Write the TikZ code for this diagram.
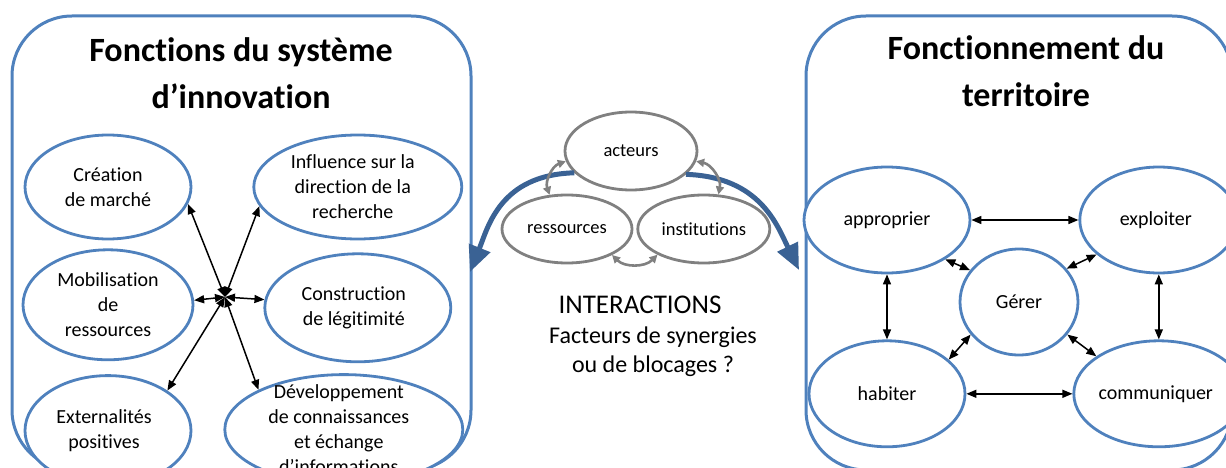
\documentclass[tikz,border=0pt]{standalone}
\usepackage{fontspec}
\setmainfont{Carlito}[Ligatures=NoCommon]
\usetikzlibrary{arrows.meta, positioning, shapes.geometric}
\definecolor{panelblue}{RGB}{79,129,189}
\definecolor{flowblue}{RGB}{58,98,148}
\definecolor{ringgray}{RGB}{128,128,128}
\tikzset{
  panel/.style={draw=panelblue, line width=3pt, rounded corners=60pt},
  ttl/.style={font=\bfseries\fontsize{34}{47}\selectfont, align=center},
  oval/.style 2 args={ellipse, draw=panelblue, line width=2.8pt, fill=white,
                      inner sep=0pt, minimum width=#1, minimum height=#2},
  gryoval/.style 2 args={oval={#1}{#2}, draw=ringgray, line width=2.8pt},
  txt/.style={font=\fontsize{20}{25}\selectfont, align=center},
  ctxt/.style={font=\fontsize{18.5}{22}\selectfont},
  link/.style={{Triangle[length=10pt,width=8pt]}-{Triangle[length=10pt,width=8pt]},
               line width=1.5pt},
  glink/.style={{Triangle[length=8pt,width=8pt]}-{Triangle[length=8pt,width=8pt]},
                ringgray, line width=2.6pt},
  flow/.style={-{Triangle[length=26pt,width=22pt]}, flowblue, line width=5pt},
}
\begin{document}
\begin{tikzpicture}[x=1pt, y=-1pt]
  \useasboundingbox (0,0) rectangle (1226,468);
  \clip (0,0) rectangle (1226,468);
  %% Left panel: innovation system functions
  \draw[panel] (12,16) rectangle (471,470);
  \node[ttl] (ltitle) at (241,73) {Fonctions du système\\d’innovation};
  \node[oval={166pt}{104pt}, label={[txt]center:{Création\\de marché}}] (crea) at (108,187) {};
  \node[oval={208pt}{104pt}, right=60pt of crea,
        label={[txt, xshift=-5pt]center:{Influence sur la\\direction de la\\recherche}}] (infl) {};
  \node[oval={170pt}{110pt}, below=8pt of crea,
        label={[txt]center:{Mobilisation\\de\\ressources}}] (mobi) {};
  \node[oval={186pt}{108pt}, below=12pt of infl,
        label={[txt, xshift=-4pt]center:{Construction\\de légitimité}}] (legi) {};
  \node[oval={166pt}{110pt}, below=13pt of mobi,
        label={[txt, xshift=-4pt]center:{Externalités\\positives}}] (exter) {};
  \node[oval={238pt}{110pt}, below=10pt of legi, xshift=-14pt,
        label={[txt, xshift=-5pt]center:{Développement\\de connaissances\\et échange\\d’informations}}] (devel) {};
  \coordinate (hub) at (225,297);
  \foreach \n/\a in {crea/-12, infl/191, mobi/3, legi/175, exter/34, devel/155}
    \draw[link] (hub) -- (\n.\a);
  %% Centre: interactions
  \node[gryoval={132pt}{78pt}, label={[ctxt]center:acteurs}] (acte) at (631,151) {};
  \node[gryoval={130pt}{68pt}, label={[ctxt]center:ressources}] (ress) at (567,229) {};
  \node[gryoval={132pt}{68pt}, right=3pt of ress, label={[ctxt]center:institutions}] (inst) {};
  \coordinate (ltip) at (470,272);
  \coordinate (rtip) at (799,270);
  \draw[flow] (acte.201) .. controls (500,175) and (488,227) .. (ltip);
  \draw[flow] (acte.-23) .. controls (760,177) and (777,225) .. (rtip);
  \draw[glink] (acte.189) to[bend right=45] (ress.117);
  \draw[glink] (acte.351) to[bend left=45] (inst.67);
  \draw[glink] (ress.-30) to[bend right=45] (inst.209);
  \node[font=\fontsize{27}{30}\selectfont] (inter) at (640,305) {INTERACTIONS};
  \node[font=\fontsize{24}{29}\selectfont, align=center] (facteurs) at (653,352)
    {Facteurs de synergies\\ou de blocages ?};
  %% Right panel: territory functioning
  \draw[panel] (806,16) rectangle (1232,470);
  \node[ttl] (rtitle) at (1026,71) {Fonctionnement du\\territoire};
  \node[oval={166pt}{106pt}, label={[txt]center:approprier}] (appr) at (887,220) {};
  \node[oval={158pt}{106pt}, right=107pt of appr, label={[txt, xshift=-3pt]center:exploiter}] (expl) {};
  \node[oval={156pt}{106pt}, below=65pt of appr, label={[txt]center:habiter}] (habi) {};
  \node[oval={170pt}{106pt}, below=65pt of expl, label={[txt, xshift=-3pt]center:communiquer}] (comm) {};
  \node[oval={118pt}{106pt}, label={[txt]center:Gérer}] (gere) at (1019,302) {};
  \draw[link] (appr.east) -- (expl.west);
  \draw[link] (habi.east) -- (comm.west);
  \draw[link] (appr.south) -- (habi.north);
  \draw[link] (expl.south) -- (comm.north);
  \draw[link] (appr.-34) -- (gere.147);
  \draw[link] (expl.209) -- (gere.35);
  \draw[link] (habi.29) -- (gere.214);
  \draw[link] (comm.149) -- (gere.-34);
\end{tikzpicture}
\end{document}
